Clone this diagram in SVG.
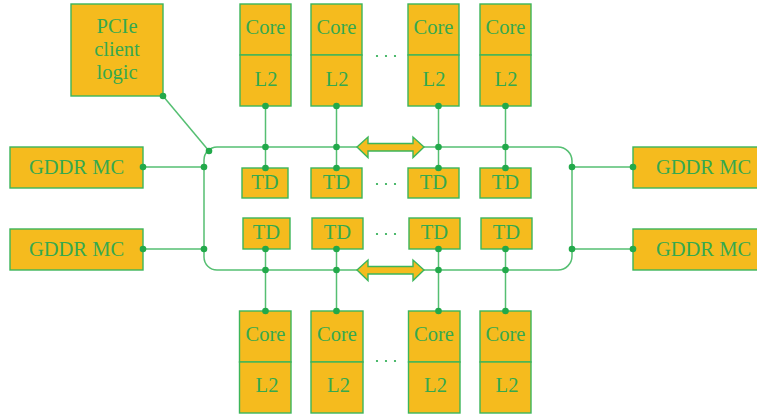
<svg xmlns="http://www.w3.org/2000/svg" width="757" height="415" viewBox="0 0 757 415">
  <style>
    .box { fill: #f5bb1e; stroke: #3cb55a; stroke-width: 1.4; }
    .lbl { font-family: "Liberation Serif", "Times New Roman", serif; font-size: 20.5px; fill: #35a94f; text-anchor: middle; }
    .wire { fill: none; stroke: #55bf72; stroke-width: 1.5; }
    .dot { fill: #22a94a; }
    .ell { fill: #22a94a; }
    .bidir { fill: #f5bb1e; stroke: #3cb55a; stroke-width: 1.4; stroke-linejoin: miter; }
  </style>

  <rect width="757" height="415" fill="#ffffff"/>

  <!-- PCIe client logic -->
  <g id="pcie">
    <rect class="box" x="71" y="4" width="92" height="92"/>
    <text class="lbl" x="117" y="33">PCIe</text>
    <text class="lbl" x="117" y="56">client</text>
    <text class="lbl" x="117" y="79">logic</text>
  </g>

  <!-- memory controllers -->
  <g id="gddr-left-top">
    <rect class="box" x="10" y="147" width="133" height="41"/>
    <text class="lbl" x="76.5" y="174">GDDR MC</text>
  </g>
  <g id="gddr-left-bottom">
    <rect class="box" x="10" y="229" width="133" height="41"/>
    <text class="lbl" x="76.5" y="256">GDDR MC</text>
  </g>
  <g id="gddr-right-top">
    <rect class="box" x="633" y="147" width="130" height="41"/>
    <text class="lbl" x="703.5" y="174">GDDR MC</text>
  </g>
  <g id="gddr-right-bottom">
    <rect class="box" x="633" y="229" width="130" height="41"/>
    <text class="lbl" x="703.5" y="256">GDDR MC</text>
  </g>

  <!-- upper core / L2 slices -->
  <g id="core-top-1">
    <rect class="box" x="240" y="4" width="51" height="51"/>
    <rect class="box" x="240" y="55" width="51" height="51"/>
    <text class="lbl" x="265.5" y="34">Core</text>
    <text class="lbl" x="266" y="86">L2</text>
  </g>
  <g id="core-top-2">
    <rect class="box" x="311" y="4" width="51" height="51"/>
    <rect class="box" x="311" y="55" width="51" height="51"/>
    <text class="lbl" x="336.5" y="34">Core</text>
    <text class="lbl" x="337" y="86">L2</text>
  </g>
  <g id="core-top-3">
    <rect class="box" x="408" y="4" width="51" height="51"/>
    <rect class="box" x="408" y="55" width="51" height="51"/>
    <text class="lbl" x="433.5" y="34">Core</text>
    <text class="lbl" x="434" y="86">L2</text>
  </g>
  <g id="core-top-4">
    <rect class="box" x="480" y="4" width="51" height="51"/>
    <rect class="box" x="480" y="55" width="51" height="51"/>
    <text class="lbl" x="505.5" y="34">Core</text>
    <text class="lbl" x="506" y="86">L2</text>
  </g>

  <!-- upper texture units -->
  <g id="td-top-1">
    <rect class="box" x="242" y="168" width="46" height="30"/>
    <text class="lbl" x="265" y="189">TD</text>
  </g>
  <g id="td-top-2">
    <rect class="box" x="311" y="168" width="51" height="30"/>
    <text class="lbl" x="336.5" y="189">TD</text>
  </g>
  <g id="td-top-3">
    <rect class="box" x="408" y="168" width="51" height="30"/>
    <text class="lbl" x="433.5" y="189">TD</text>
  </g>
  <g id="td-top-4">
    <rect class="box" x="480" y="168" width="51" height="30"/>
    <text class="lbl" x="505.5" y="189">TD</text>
  </g>

  <!-- lower texture units -->
  <g id="td-bottom-1">
    <rect class="box" x="243" y="218" width="47" height="31"/>
    <text class="lbl" x="266.5" y="239">TD</text>
  </g>
  <g id="td-bottom-2">
    <rect class="box" x="312" y="218" width="51" height="31"/>
    <text class="lbl" x="337.5" y="239">TD</text>
  </g>
  <g id="td-bottom-3">
    <rect class="box" x="409" y="218" width="51" height="31"/>
    <text class="lbl" x="434.5" y="239">TD</text>
  </g>
  <g id="td-bottom-4">
    <rect class="box" x="481" y="218" width="51" height="31"/>
    <text class="lbl" x="506.5" y="239">TD</text>
  </g>

  <!-- lower core / L2 slices -->
  <g id="core-bottom-1">
    <rect class="box" x="239.5" y="311" width="51.5" height="51"/>
    <rect class="box" x="239.5" y="362" width="51.5" height="51"/>
    <text class="lbl" x="265.5" y="341">Core</text>
    <text class="lbl" x="267" y="392">L2</text>
  </g>
  <g id="core-bottom-2">
    <rect class="box" x="311" y="311" width="52" height="51"/>
    <rect class="box" x="311" y="362" width="52" height="51"/>
    <text class="lbl" x="337" y="341">Core</text>
    <text class="lbl" x="338.5" y="392">L2</text>
  </g>
  <g id="core-bottom-3">
    <rect class="box" x="408.5" y="311" width="51.5" height="51"/>
    <rect class="box" x="408.5" y="362" width="51.5" height="51"/>
    <text class="lbl" x="434" y="341">Core</text>
    <text class="lbl" x="435.5" y="392">L2</text>
  </g>
  <g id="core-bottom-4">
    <rect class="box" x="480" y="311" width="51" height="51"/>
    <rect class="box" x="480" y="362" width="51" height="51"/>
    <text class="lbl" x="505.5" y="341">Core</text>
    <text class="lbl" x="507" y="392">L2</text>
  </g>

  <!-- ellipses marking further slices -->
  <g id="ellipses" class="ell">
    <circle cx="377" cy="56" r="1.1"/><circle cx="386" cy="56" r="1.1"/><circle cx="395" cy="56" r="1.1"/>
    <circle cx="377" cy="184" r="1.1"/><circle cx="386" cy="184" r="1.1"/><circle cx="395" cy="184" r="1.1"/>
    <circle cx="377" cy="234" r="1.1"/><circle cx="386" cy="234" r="1.1"/><circle cx="395" cy="234" r="1.1"/>
    <circle cx="377" cy="361" r="1.1"/><circle cx="386" cy="361" r="1.1"/><circle cx="395" cy="361" r="1.1"/>
  </g>

  <!-- connectors: ring buses, taps and links (drawn last so the dots sit on box edges) -->
  <g id="connectors">
    <!-- left ring edge -->
    <path class="wire" d="M 217 147 A 13 13 0 0 0 204 160 L 204 257 A 13 13 0 0 0 217 270"/>
    <!-- right ring edge -->
    <path class="wire" d="M 558 147 A 14 14 0 0 1 572 161 L 572 256 A 14 14 0 0 1 558 270"/>
    <!-- top and bottom bus -->
    <line class="wire" x1="217" y1="147" x2="558" y2="147"/>
    <line class="wire" x1="217" y1="270" x2="558" y2="270"/>
    <!-- PCIe link -->
    <line class="wire" x1="163" y1="96" x2="209" y2="151"/>
    <!-- memory controller links -->
    <line class="wire" x1="143" y1="167" x2="204" y2="167"/>
    <line class="wire" x1="143" y1="249" x2="204" y2="249"/>
    <line class="wire" x1="572" y1="167" x2="633" y2="167"/>
    <line class="wire" x1="572" y1="249" x2="633" y2="249"/>
    <!-- column taps, top half -->
    <line class="wire" x1="265.5" y1="106" x2="265.5" y2="168"/>
    <line class="wire" x1="336.5" y1="106" x2="336.5" y2="168"/>
    <line class="wire" x1="438.5" y1="106" x2="438.5" y2="168"/>
    <line class="wire" x1="505.5" y1="106" x2="505.5" y2="168"/>
    <!-- column taps, bottom half -->
    <line class="wire" x1="265.5" y1="249" x2="265.5" y2="311"/>
    <line class="wire" x1="336.5" y1="249" x2="336.5" y2="311"/>
    <line class="wire" x1="438.5" y1="249" x2="438.5" y2="311"/>
    <line class="wire" x1="505.5" y1="249" x2="505.5" y2="311"/>

    <!-- bidirectional ring arrows -->
    <path class="bidir" d="M 357 147 L 368 137 L 368 143.5 L 413 143.5 L 413 137 L 424 147 L 413 157.5 L 413 151 L 368 151 L 368 157.5 Z"/>
    <path class="bidir" d="M 357 270 L 368 260 L 368 266.5 L 413 266.5 L 413 260 L 424 270 L 413 280.5 L 413 274 L 368 274 L 368 280.5 Z"/>

    <!-- junction dots -->
    <g class="dot">
      <circle cx="163" cy="96" r="3.3"/>
      <circle cx="209" cy="151" r="3.3"/>
      <circle cx="143" cy="167" r="3.3"/>
      <circle cx="204" cy="167" r="3.3"/>
      <circle cx="143" cy="249" r="3.3"/>
      <circle cx="204" cy="249" r="3.3"/>
      <circle cx="572" cy="167" r="3.3"/>
      <circle cx="633" cy="167" r="3.3"/>
      <circle cx="572" cy="249" r="3.3"/>
      <circle cx="633" cy="249" r="3.3"/>

      <circle cx="265.5" cy="106" r="3.3"/>
      <circle cx="265.5" cy="147" r="3.3"/>
      <circle cx="265.5" cy="168" r="3.3"/>
      <circle cx="336.5" cy="106" r="3.3"/>
      <circle cx="336.5" cy="147" r="3.3"/>
      <circle cx="336.5" cy="168" r="3.3"/>
      <circle cx="438.5" cy="106" r="3.3"/>
      <circle cx="438.5" cy="147" r="3.3"/>
      <circle cx="438.5" cy="168" r="3.3"/>
      <circle cx="505.5" cy="106" r="3.3"/>
      <circle cx="505.5" cy="147" r="3.3"/>
      <circle cx="505.5" cy="168" r="3.3"/>

      <circle cx="265.5" cy="249" r="3.3"/>
      <circle cx="265.5" cy="270" r="3.3"/>
      <circle cx="265.5" cy="311" r="3.3"/>
      <circle cx="336.5" cy="249" r="3.3"/>
      <circle cx="336.5" cy="270" r="3.3"/>
      <circle cx="336.5" cy="311" r="3.3"/>
      <circle cx="438.5" cy="249" r="3.3"/>
      <circle cx="438.5" cy="270" r="3.3"/>
      <circle cx="438.5" cy="311" r="3.3"/>
      <circle cx="505.5" cy="249" r="3.3"/>
      <circle cx="505.5" cy="270" r="3.3"/>
      <circle cx="505.5" cy="311" r="3.3"/>
    </g>
  </g>
</svg>
